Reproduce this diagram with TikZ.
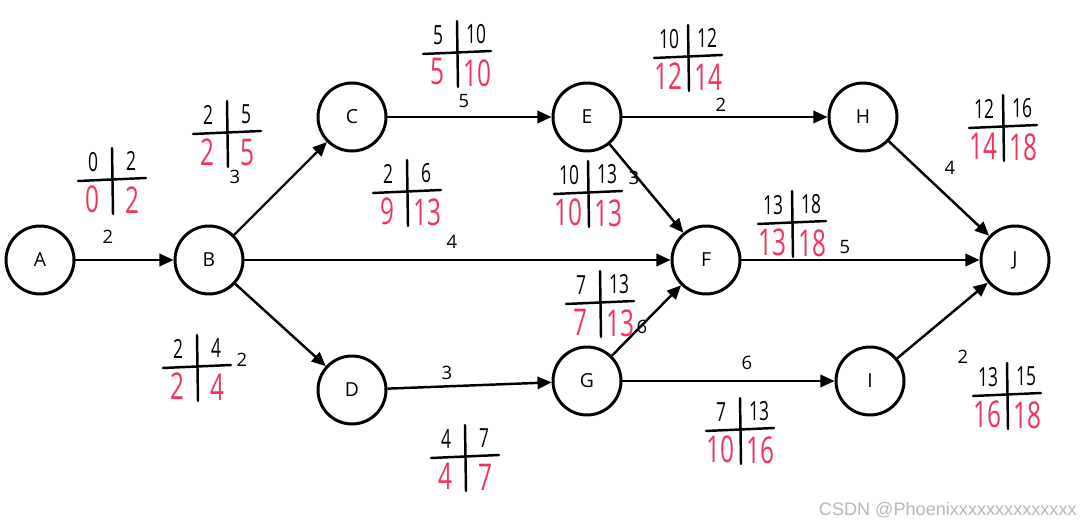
\documentclass[tikz,border=0pt]{standalone}
\usepackage{graphicx}
\usepackage{fontspec}
\setmainfont{Open Sans}
\newfontfamily\markfont{Liberation Sans}
\usetikzlibrary{arrows.meta}

\definecolor{inkred}{RGB}{240,52,92}

\tikzset{
  event/.style={circle, draw, line width=1.7pt, minimum size=1.36cm, inner sep=0pt, font=\fontsize{11}{13}\selectfont},
  act/.style={-{Triangle[length=8pt,width=7pt]}, line width=1.4pt},
  dur/.style={font=\fontsize{10.5}{12}\selectfont, inner sep=0pt},
  ink/.style={line width=1.4pt, line cap=round},
  early/.style={font=\fontsize{15}{16}\selectfont, inner sep=0pt},
  late/.style={text=inkred, font=\fontsize{21}{22}\selectfont, inner sep=0pt},
}

\newcommand{\hw}[1]{\scalebox{0.66}[1]{#1}}
% time cross: name, centre, ES, EF, LS, LF
\newcommand{\timecross}[6]{%
  \begin{scope}[shift={#2}]
    \draw[ink] (-34,1) -- (34,-2);
    \draw[ink] (0,-32) -- (1,34);
    \node[early] (#1-es) at (-19,-18) {\hw{#3}};
    \node[early] (#1-ef) at (19,-19) {\hw{#4}};
    \node[late] (#1-ls) at (-20,19) {\hw{#5}};
    \node[late] (#1-lf) at (20,20) {\hw{#6}};
  \end{scope}
}

\begin{document}
\begin{tikzpicture}[x=0.02cm, y=-0.02cm]
  \useasboundingbox[fill=white] (0,0) rectangle (1081,526);

  % events
  \node[event] (A) at (40,260) {A};
  \node[event] (B) at (209,260) {B};
  \node[event] (C) at (352,117) {C};
  \node[event] (D) at (352,390) {D};
  \node[event] (E) at (587,117) {E};
  \node[event] (F) at (706,260) {F};
  \node[event] (G) at (587,381) {G};
  \node[event] (H) at (863,117) {H};
  \node[event] (I) at (870,381) {I};
  \node[event] (J) at (1015,260) {J};

  % activities
  \draw[act] (A) -- (B);
  \draw[act] (B) -- (C);
  \draw[act] (B) -- (F);
  \draw[act] (B) -- (D);
  \draw[act] (C) -- (E);
  \draw[act] (E) -- (H);
  \draw[act] (E) -- (F);
  \draw[act] (D) -- (G);
  \draw[act] (G) -- (F);
  \draw[act] (G) -- (I);
  \draw[act] (F) -- (J);
  \draw[act] (H) -- (J);
  \draw[act] (I) -- (J);

  % durations
  \node[dur] (dAB) at (108,237) {2};
  \node[dur] (dBC) at (235,177) {3};
  \node[dur] (dCE) at (464,101) {5};
  \node[dur] (dEH) at (721,105) {2};
  \node[dur] (dBF) at (452,242) {4};
  \node[dur] (dEF) at (634,178) {3};
  \node[dur] (dFJ) at (845,247) {5};
  \node[dur] (dHJ) at (950,168) {4};
  \node[dur] (dBD) at (242,360) {2};
  \node[dur] (dDG) at (447,373) {3};
  \node[dur] (dGF) at (642,327) {6};
  \node[dur] (dGI) at (747,363) {6};
  \node[dur] (dIJ) at (963,357) {2};

  % early / late times
  \timecross{tAB}{(112,180)}{0}{2}{0}{2}
  \timecross{tBC}{(227,133)}{2}{5}{2}{5}
  \timecross{tCE}{(457,53)}{5}{10}{5}{10}
  \timecross{tEH}{(688,57)}{10}{12}{12}{14}
  \timecross{tBF}{(407,192)}{2}{6}{9}{13}
  \timecross{tEF}{(588,193)}{10}{13}{10}{13}
  \timecross{tFJ}{(792,223)}{13}{18}{13}{18}
  \timecross{tHJ}{(1003,127)}{12}{16}{14}{18}
  \timecross{tBD}{(197,367)}{2}{4}{2}{4}
  \timecross{tDG}{(465,457)}{4}{7}{4}{7}
  \timecross{tGF}{(600,303)}{7}{13}{7}{13}
  \timecross{tGI}{(740,430)}{7}{13}{10}{16}
  \timecross{tIJ}{(1007,395)}{13}{15}{16}{18}

  \node[anchor=east, text=black!28, inner sep=0pt, font=\markfont\fontsize{10.3}{12}\selectfont] (mark) at (1077,510) {CSDN @Phoenixxxxxxxxxxxxxx};
\end{tikzpicture}
\end{document}
